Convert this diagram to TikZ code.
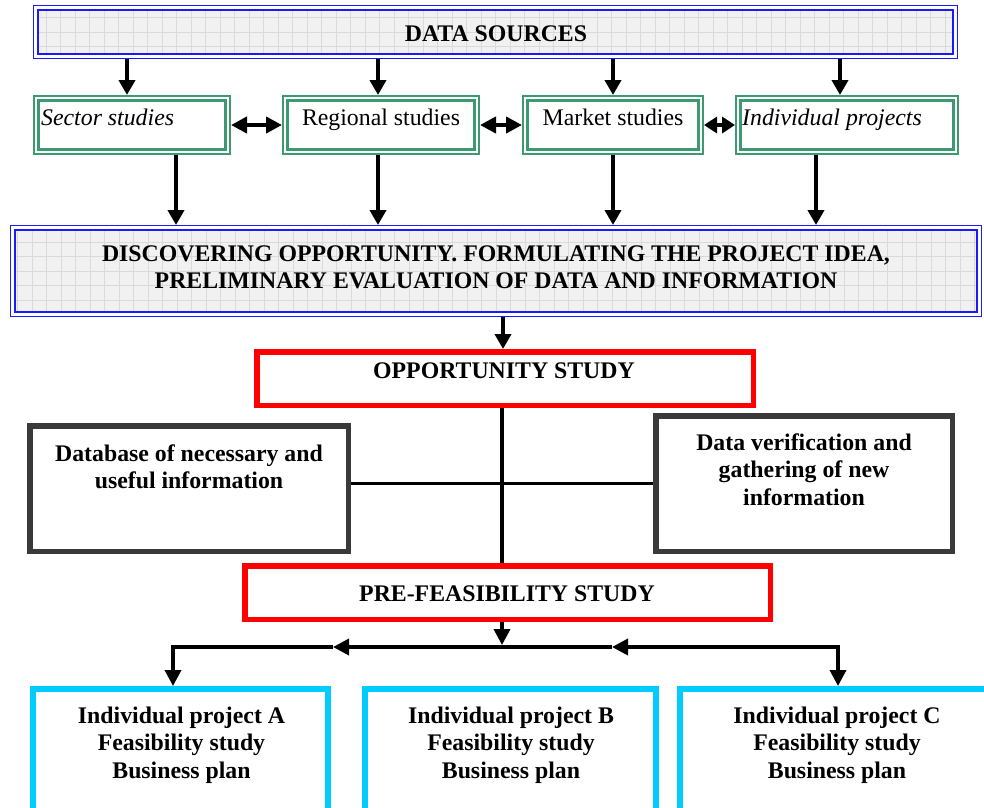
\documentclass[tikz,border=0pt]{standalone}
\usepackage{fontspec}
\setmainfont{Liberation Serif}
\usetikzlibrary{arrows.meta,calc}
\definecolor{blueC}{HTML}{1A1AFF}
\definecolor{greenC}{HTML}{3D9970}
\definecolor{redC}{HTML}{FF0000}
\definecolor{darkC}{HTML}{3A3A3A}
\definecolor{cyanC}{HTML}{00CCFF}
\definecolor{fillG}{HTML}{F1F1F1}
\definecolor{gridG}{HTML}{DADADA}
\newcommand{\myfs}{\fontsize{23.8}{27.5}\selectfont}
\tikzset{
  bluebox/.style={fill=fillG, draw=blueC, line width=2.6pt,
    preaction={draw=blueC, line width=10pt},
    preaction={draw=white, line width=7.2pt},
    path picture={\draw[gridG, line width=0.6pt, step=14.5pt]
      (path picture bounding box.south west) grid (path picture bounding box.north east);},
    outer sep=5pt, inner sep=0pt, rectangle},
  greenbox/.style={fill=white, draw=greenC, line width=3pt,
    preaction={draw=greenC, line width=11pt},
    preaction={draw=white, line width=7pt},
    outer sep=5.5pt, inner sep=0pt, rectangle},
  redbox/.style={draw=redC, line width=5.5pt, fill=white, inner sep=0pt, rectangle},
  darkbox/.style={draw=darkC, line width=5.5pt, fill=white, inner sep=0pt, rectangle},
  cyanbox/.style={draw=cyanC, line width=6pt, fill=white, inner sep=0pt, rectangle},
  txt/.style={inner sep=0pt, font=\myfs, align=center, anchor=base},
  bigarrow/.style={line width=4.8pt, -{Triangle[width=16pt,length=15pt]}},
  dblarrow/.style={line width=4.3pt, {Triangle[width=16pt,length=16pt]}-{Triangle[width=16pt,length=16pt]}},
  shortdbl/.style={line width=4.3pt, {Triangle[width=16pt,length=13pt]}-{Triangle[width=16pt,length=13pt]}},
  midarrow/.style={line width=3.6pt, -{Triangle[width=16pt,length=16pt]}},
  plainline/.style={line width=3.6pt},
}
\begin{document}
\begin{tikzpicture}[x=1pt,y=-1pt]
\useasboundingbox (0,0) rectangle (984,807);
\clip (0,0) rectangle (984,807);

% boxes
\node[bluebox, minimum width=915pt, minimum height=44pt] (ds) at (495.5,32) {};
\node[greenbox, minimum width=187pt, minimum height=49pt] (sec) at (132,125) {};
\node[greenbox, minimum width=187pt, minimum height=49pt] (reg) at (381,125) {};
\node[greenbox, minimum width=171pt, minimum height=49pt] (mkt) at (613,125) {};
\node[greenbox, minimum width=213pt, minimum height=49pt] (ind) at (847,125) {};
\node[bluebox, minimum width=962pt, minimum height=82pt] (disc) at (496,271) {};
\node[redbox, minimum width=496.5pt, minimum height=53.5pt] (opp) at (505,378.5) {};
\node[darkbox, minimum width=318.5pt, minimum height=125.5pt] (db) at (189,488.5) {};
\node[darkbox, minimum width=296.5pt, minimum height=135.5pt] (ver) at (804,483.5) {};
\node[redbox, minimum width=525.5pt, minimum height=53.5pt] (pre) at (507.5,592.5) {};
\node[cyanbox, minimum width=295pt, minimum height=151pt] (pa) at (180.5,764.5) {};
\node[cyanbox, minimum width=291pt, minimum height=151pt] (pb) at (510.5,764.5) {};
\node[cyanbox, minimum width=327pt, minimum height=151pt] (pc) at (843.5,764.5) {};

% texts (multi-line nodes: base anchor = last line's baseline)
\node[txt] (tds) at (496,41) {\bfseries DATA SOURCES};
\node[txt, anchor=base west] (tsec) at (41,125) {\itshape Sector studies};
\node[txt] (treg) at (381,125) {Regional studies};
\node[txt] (tmkt) at (613,125) {Market studies};
\node[txt, anchor=base west] (tind) at (742,125) {\itshape Individual projects};
\node[txt, font=\myfs\bfseries] (tdisc) at (496,288.5) {DISCOVERING OPPORTUNITY. FORMULATING THE PROJECT IDEA,\\PRELIMINARY EVALUATION OF DATA AND INFORMATION};
\node[txt] (topp) at (504,378) {\bfseries OPPORTUNITY STUDY};
\node[txt, font=\myfs\bfseries] (tdb) at (189,488.5) {Database of necessary and\\useful information};
\node[txt, font=\myfs\bfseries] (tver) at (804,505) {Data verification and\\gathering of new\\information};
\node[txt] (tpre) at (507,601) {\bfseries PRE-FEASIBILITY STUDY};
\node[txt, font=\myfs\bfseries] (tpa) at (181.5,778) {Individual project A\\Feasibility study\\Business plan};
\node[txt, font=\myfs\bfseries] (tpb) at (511,778) {Individual project B\\Feasibility study\\Business plan};
\node[txt, font=\myfs\bfseries] (tpc) at (837,778) {Individual project C\\Feasibility study\\Business plan};

% data sources -> studies
\draw[bigarrow] ($(sec.north |- ds.south)+(-5,0)$) -- ($(sec.north)+(-5,0)$);
\draw[bigarrow] ($(reg.north |- ds.south)+(-3,0)$) -- ($(reg.north)+(-3,0)$);
\draw[bigarrow] (mkt.north |- ds.south) -- (mkt.north);
\draw[bigarrow] ($(ind.north |- ds.south)+(-7,0)$) -- ($(ind.north)+(-7,0)$);

% double arrows between studies
\draw[dblarrow] (sec.east) -- (reg.west);
\draw[dblarrow] (reg.east) -- (mkt.west);
\draw[shortdbl] (mkt.east) -- (ind.west);

% studies -> discovering
\draw[bigarrow] ($(sec.south)+(44,0)$) -- ($(sec.south |- disc.north)+(44,0)$);
\draw[bigarrow] ($(reg.south)+(-3,0)$) -- ($(reg.south |- disc.north)+(-3,0)$);
\draw[bigarrow] (mkt.south) -- (mkt.south |- disc.north);
\draw[bigarrow] ($(ind.south)+(-31,0)$) -- ($(ind.south |- disc.north)+(-31,0)$);

% discovering -> opportunity
\draw[bigarrow] ($(opp.north |- disc.south)+(-2,0)$) -- ($(opp.north)+(-2,0)$);

% opportunity -- pre-feasibility, database -- verification
\coordinate (vx) at ($(opp.south)+(-3,0)$);
\draw[plainline] (vx) -- (vx |- pre.north);
\draw[plainline] (ver.west) -- (ver.west -| db.east);

% pre-feasibility -> projects
\coordinate (jA) at (173,647);
\coordinate (jC) at (838,647);
\coordinate (m1) at (333,647);
\coordinate (m2) at (612,647);
\coordinate (jM) at (502,645);
\draw[midarrow] ($(pre.south)+(-5.5,0)$) -- (jM);
\draw[midarrow, line cap=rect] (jC) -- (m2);
\draw[midarrow] (m2) -- (m1);
\draw[midarrow, line join=miter] (m1) -- (jA) -- (jA |- pa.north);
\draw[midarrow, line cap=rect] (jC) -- (jC |- pc.north);
\end{tikzpicture}
\end{document}
